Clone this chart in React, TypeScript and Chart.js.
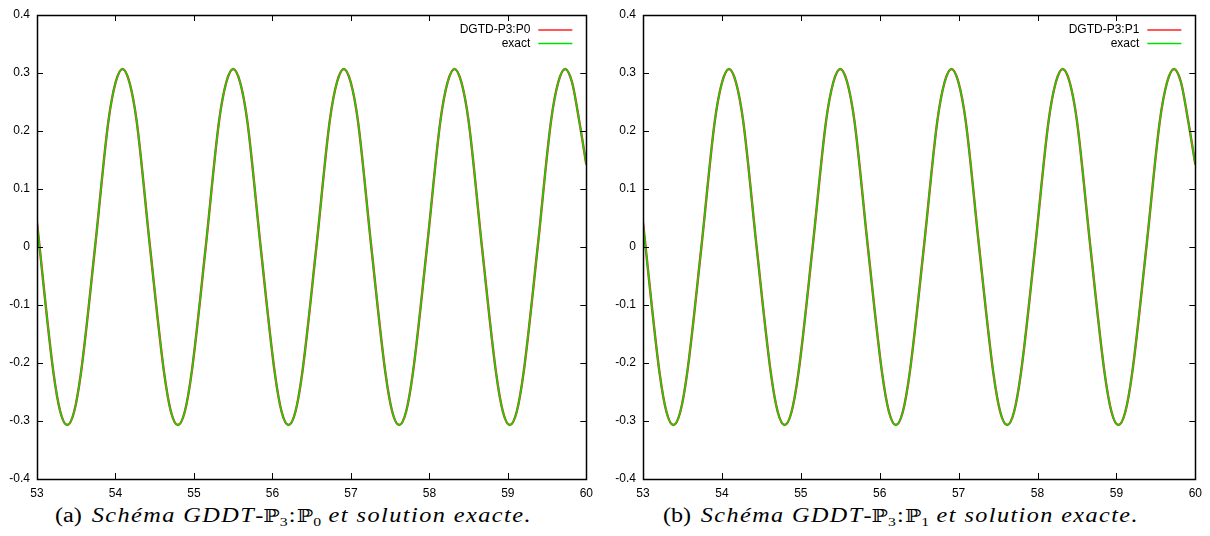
import React, { useEffect, useLayoutEffect, useRef } from 'react';
import { Chart, registerables } from 'chart.js';

Chart.register(...registerables);

// Time samples (peaks, troughs, zero crossings and intermediate points)
const timeValues = [
  53.0, 53.21, 53.297, 53.385, 53.473, 53.56, 53.74, 53.91, 54.002, 54.09, 54.178, 54.27,
  54.44, 54.62, 54.707, 54.795, 54.883, 54.97, 55.15, 55.32, 55.412, 55.5, 55.588, 55.68,
  55.85, 56.03, 56.117, 56.205, 56.293, 56.38, 56.56, 56.73, 56.822, 56.91, 56.998, 57.09,
  57.26, 57.44, 57.527, 57.615, 57.703, 57.79, 57.97, 58.14, 58.232, 58.32, 58.408, 58.5,
  58.67, 58.85, 58.937, 59.025, 59.113, 59.2, 59.38, 59.55, 59.642, 59.73, 59.818, 59.91,
  60.0,
];
const exactValues = [
  0.042, -0.217, -0.284, -0.307, -0.284, -0.217, 0.0, 0.217, 0.284, 0.307, 0.284, 0.217,
  0.0, -0.217, -0.284, -0.307, -0.284, -0.217, 0.0, 0.217, 0.284, 0.307, 0.284, 0.217,
  0.0, -0.217, -0.284, -0.307, -0.284, -0.217, 0.0, 0.217, 0.284, 0.307, 0.284, 0.217,
  0.0, -0.217, -0.284, -0.307, -0.284, -0.217, 0.0, 0.217, 0.284, 0.307, 0.284, 0.217,
  0.0, -0.217, -0.284, -0.307, -0.284, -0.217, 0.0, 0.217, 0.284, 0.307, 0.284, 0.217,
  0.142,
];
const dgtdP0Values = [
  0.042, -0.217, -0.284, -0.307, -0.284, -0.217, 0.0, 0.217, 0.284, 0.307, 0.284, 0.217,
  0.0, -0.217, -0.284, -0.307, -0.284, -0.217, 0.0, 0.217, 0.284, 0.307, 0.284, 0.217,
  0.0, -0.217, -0.284, -0.307, -0.284, -0.217, 0.0, 0.217, 0.284, 0.307, 0.284, 0.217,
  0.0, -0.217, -0.284, -0.307, -0.284, -0.217, 0.0, 0.217, 0.284, 0.307, 0.284, 0.217,
  0.0, -0.217, -0.284, -0.307, -0.284, -0.217, 0.0, 0.217, 0.284, 0.307, 0.284, 0.217,
  0.142,
];
const dgtdP1Values = [
  0.042, -0.217, -0.284, -0.307, -0.284, -0.217, 0.0, 0.217, 0.284, 0.307, 0.284, 0.217,
  0.0, -0.217, -0.284, -0.307, -0.284, -0.217, 0.0, 0.217, 0.284, 0.307, 0.284, 0.217,
  0.0, -0.217, -0.284, -0.307, -0.284, -0.217, 0.0, 0.217, 0.284, 0.307, 0.284, 0.217,
  0.0, -0.217, -0.284, -0.307, -0.284, -0.217, 0.0, 0.217, 0.284, 0.307, 0.284, 0.217,
  0.0, -0.217, -0.284, -0.307, -0.284, -0.217, 0.0, 0.217, 0.284, 0.307, 0.284, 0.217,
  0.142,
];
const xTickValues = [53, 54, 55, 56, 57, 58, 59, 60];
const yTickValues = [-0.4, -0.3, -0.2, -0.1, 0, 0.1, 0.2, 0.3, 0.4];
const legendLabelsA = ['DGTD-P3:P0', 'exact'];
const legendLabelsB = ['DGTD-P3:P1', 'exact'];

const RED = '#ff2020';
const GREEN = '#00e000';
const TICK_FONT = '12px "Liberation Sans", Arial, sans-serif';

const framePlugin = {
  id: 'gnuFrame',
  afterDatasetsDraw(chart: any) {
    const { ctx, chartArea } = chart;
    const { left, right, top, bottom } = chartArea;
    const xs = chart.scales.x;
    const ys = chart.scales.y;
    const tl = 6;
    ctx.save();
    ctx.strokeStyle = '#000';
    ctx.lineWidth = 1;
    ctx.beginPath();
    for (const v of xTickValues) {
      const px = Math.round(xs.getPixelForValue(v)) + 0.5;
      ctx.moveTo(px, bottom);
      ctx.lineTo(px, bottom - tl);
      ctx.moveTo(px, top);
      ctx.lineTo(px, top + tl);
    }
    for (const v of yTickValues) {
      const py = Math.round(ys.getPixelForValue(v)) + 0.5;
      ctx.moveTo(left, py);
      ctx.lineTo(left + tl, py);
      ctx.moveTo(right, py);
      ctx.lineTo(right - tl, py);
    }
    ctx.stroke();
    ctx.lineWidth = 1.5;
    ctx.strokeRect(Math.round(left) + 0.5, Math.round(top) + 0.5, Math.round(right - left), Math.round(bottom - top));

    // legend (gnuplot style: right-aligned text, sample line to the right)
    const labels: string[] = chart.options.plugins.gnuFrame.labels;
    const colors = [RED, GREEN];
    ctx.font = TICK_FONT;
    ctx.textAlign = 'right';
    ctx.textBaseline = 'middle';
    labels.forEach((lab, i) => {
      const y = top + 15 + i * 13.5;
      ctx.fillStyle = '#000';
      ctx.fillText(lab, right - 56, y);
      ctx.strokeStyle = colors[i];
      ctx.lineWidth = 1.5;
      ctx.beginPath();
      ctx.moveTo(right - 48, y);
      ctx.lineTo(right - 14, y);
      ctx.stroke();
    });
    ctx.restore();
  },
};

function Plot(props: { sim: number[]; labels: string[]; padRight: number }) {
  const ref = useRef<HTMLCanvasElement>(null);
  useEffect(() => {
    const ctx = ref.current!;
    const chart = new Chart(ctx, {
      type: 'line',
      data: {
        datasets: [
          {
            label: props.labels[0],
            data: timeValues.map((t, i) => ({ x: t, y: props.sim[i] })),
            borderColor: RED,
            borderWidth: 2.4,
            pointRadius: 0,
            cubicInterpolationMode: 'monotone',
            fill: false,
            order: 2,
          },
          {
            label: props.labels[1],
            data: timeValues.map((t, i) => ({ x: t, y: exactValues[i] })),
            borderColor: GREEN,
            borderWidth: 1.5,
            pointRadius: 0,
            cubicInterpolationMode: 'monotone',
            fill: false,
            order: 1,
          },
        ],
      },
      options: {
        animation: false,
        responsive: false,
        events: [],
        layout: { padding: { left: 0, right: props.padRight, top: 15, bottom: 0 } },
        plugins: {
          legend: { display: false },
          tooltip: { enabled: false },
          gnuFrame: { labels: props.labels },
        } as any,
        scales: {
          x: {
            type: 'linear',
            min: 53,
            max: 60,
            afterBuildTicks: (s: any) => {
              s.ticks = xTickValues.map((v) => ({ value: v }));
            },
            afterFit: (s: any) => {
              s.height = 21;
            },
            grid: { display: false, drawTicks: false },
            border: { display: false },
            ticks: {
              padding: 7,
              color: '#000',
              font: { family: '"Liberation Sans", Arial, sans-serif', size: 12 },
              maxRotation: 0,
              autoSkip: false,
              callback: (v: any) => String(v),
            },
          },
          y: {
            type: 'linear',
            min: -0.4,
            max: 0.4,
            afterBuildTicks: (s: any) => {
              s.ticks = yTickValues.map((v) => ({ value: v }));
            },
            afterFit: (s: any) => {
              s.width = 37;
            },
            grid: { display: false, drawTicks: false },
            border: { display: false },
            ticks: {
              padding: 7,
              color: '#000',
              font: { family: '"Liberation Sans", Arial, sans-serif', size: 12 },
              autoSkip: false,
              callback: (v: any) => String(Number(Number(v).toFixed(1))),
            },
          },
        },
      },
      plugins: [framePlugin as any],
    });
    return () => chart.destroy();
  }, []);
  return <canvas ref={ref} width={600 + props.padRight - 10} height={500} style={{ display: 'block' }} />;
}

const capStyle: React.CSSProperties = {
  position: 'absolute',
  top: 503,
  fontFamily: '"Liberation Serif", "DejaVu Serif", serif',
  fontSize: 20,
  lineHeight: '24px',
  color: '#000',
  whiteSpace: 'nowrap',
  transformOrigin: '0 0',
};
const it: React.CSSProperties = { fontStyle: 'italic', letterSpacing: '1.2px' };
const sub: React.CSSProperties = { fontSize: 13, verticalAlign: '-4px', fontStyle: 'normal' };
const bb: React.CSSProperties = { fontFamily: '"DejaVu Serif", serif', fontSize: 18 };

function Caption(props: { tag: string; p: string; left: number; width: number }) {
  const ref = useRef<HTMLDivElement>(null);
  useLayoutEffect(() => {
    const el = ref.current!;
    el.style.transform = 'none';
    const w = el.getBoundingClientRect().width;
    if (w > 0) el.style.transform = `scaleX(${props.width / w})`;
  }, []);
  return (
    <div ref={ref} style={{ ...capStyle, left: props.left }}>
      <span>({props.tag})</span>
      <span style={{ display: 'inline-block', width: 8 }} />
      <span style={it}>Schéma GDDT</span>
      <span>-</span>
      <span style={bb}>ℙ</span>
      <span style={sub}>3</span>
      <span style={{ margin: '0 1px' }}>:</span>
      <span style={bb}>ℙ</span>
      <span style={sub}>{props.p}</span>
      <span style={it}> et solution exacte.</span>
    </div>
  );
}

export default function App() {
  useEffect(() => {
    document.body.style.margin = '0';
  }, []);
  return (
    <div style={{ position: 'relative', width: 1210, height: 536, background: '#fff', overflow: 'hidden' }}>
      <div style={{ position: 'absolute', left: 0, top: 0 }}>
        <Plot sim={dgtdP0Values} labels={legendLabelsA} padRight={10} />
      </div>
      <div style={{ position: 'absolute', left: 606, top: 0 }}>
        <Plot sim={dgtdP1Values} labels={legendLabelsB} padRight={13} />
      </div>
      <Caption tag="a" p="0" left={55} width={477} />
      <Caption tag="b" p="1" left={663} width={476} />
    </div>
  );
}
